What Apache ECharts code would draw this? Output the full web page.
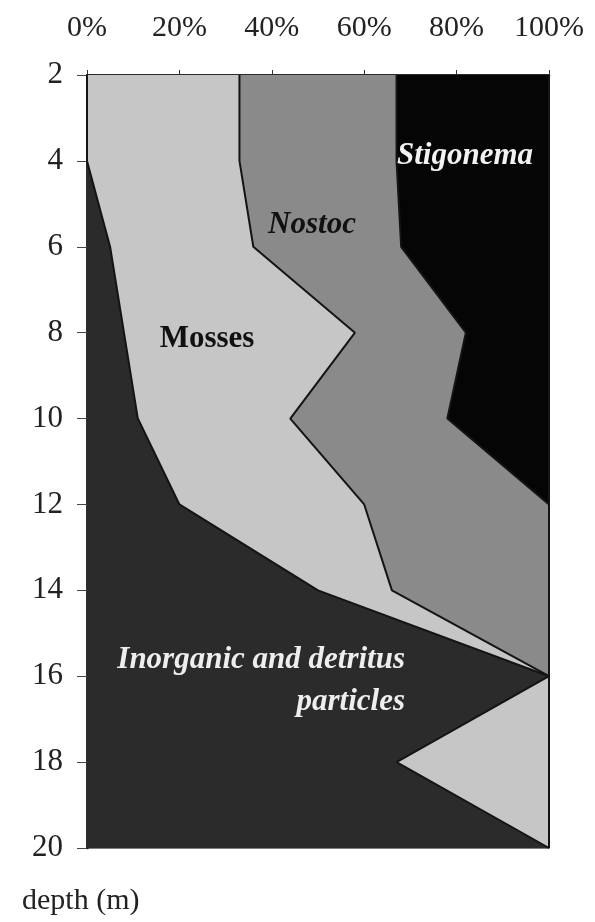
<!DOCTYPE html>
<html>
<head>
<meta charset="utf-8">
<script src="https://cdn.jsdelivr.net/npm/echarts@6/dist/echarts.min.js"></script>
<style>
  html, body { margin: 0; padding: 0; background: #fff; }
  #main { width: 595px; height: 922px; }
</style>
</head>
<body>
<div id="main"></div>
<script>
// depth (m), top to bottom
var depths = ['2', '4', '6', '8', '10', '12', '14', '16', '18', '20'];
// share of each group at each depth (%), stacked left to right
var inorganic = [0, 0, 5, 8, 11, 20, 50, 100, 67, 100];
var mosses = [33, 33, 31, 50, 33, 40, 16, 0, 33, 0];
var nostoc = [34, 34, 32, 24, 34, 40, 34, 0, 0, 0];
var stigonema = [33, 33, 32, 18, 22, 0, 0, 0, 0, 0];
var pctTicks = [0, 20, 40, 60, 80, 100];

var serif = '"Liberation Serif", "Times New Roman", serif';

function layer(name, data, color, z) {
  return {
    name: name,
    type: 'line',
    stack: 'total',
    data: data,
    z: z,
    symbol: 'none',
    silent: true,
    lineStyle: { color: '#141414', width: 2 },
    areaStyle: { color: color, opacity: 1 }
  };
}

var chart = echarts.init(document.getElementById('main'), null, { renderer: 'canvas' });

var option = {
  animation: false,
  backgroundColor: '#ffffff',
  grid: {
    left: 87, right: 46, top: 75, bottom: 74,
    show: true, borderColor: '#555', borderWidth: 1.5
  },
  xAxis: {
    type: 'value',
    position: 'top',
    min: 0, max: 100, interval: 20,
    axisLine: { show: true, lineStyle: { color: '#111', width: 2.5 } },
    axisTick: { show: true, length: 5, lineStyle: { color: '#333' } },
    splitLine: { show: false },
    axisLabel: {
      margin: 32,
      color: '#222',
      fontFamily: serif,
      fontSize: 30,
      formatter: function (v) { return pctTicks.indexOf(v) >= 0 ? v + '%' : ''; }
    }
  },
  yAxis: {
    type: 'category',
    data: depths,
    inverse: true,
    boundaryGap: false,
    axisLine: { show: true, lineStyle: { color: '#111', width: 2.5 } },
    axisTick: { show: true, length: 10, interval: 0, lineStyle: { color: '#444' } },
    axisLabel: {
      interval: 0,
      margin: 24,
      color: '#222',
      fontFamily: serif,
      fontSize: 31
    }
  },
  series: [
    layer('Inorganic and detritus particles', inorganic, '#2b2b2b', 5),
    layer('Mosses', mosses, '#c6c6c6', 4),
    layer('Nostoc', nostoc, '#8a8a8a', 3),
    layer('Stigonema', stigonema, '#050505', 2)
  ],
  graphic: [
    {
      type: 'text', left: 22, top: 886, z: 10,
      style: { text: 'depth (m)', fill: '#222', font: '30px ' + serif }
    },
    {
      type: 'text', x: 465, y: 156, z: 10,
      style: { text: 'Stigonema', fill: '#f2f2f2', font: 'italic bold 31px ' + serif, align: 'center', verticalAlign: 'middle' }
    },
    {
      type: 'text', x: 312, y: 225, z: 10,
      style: { text: 'Nostoc', fill: '#111', font: 'italic bold 31px ' + serif, align: 'center', verticalAlign: 'middle' }
    },
    {
      type: 'text', x: 207, y: 339, z: 10,
      style: { text: 'Mosses', fill: '#111', font: 'bold 31px ' + serif, align: 'center', verticalAlign: 'middle' }
    },
    {
      type: 'text', x: 405, y: 660, z: 10,
      style: { text: 'Inorganic and detritus', fill: '#eeeeee', font: 'italic bold 31px ' + serif, align: 'right', verticalAlign: 'middle' }
    },
    {
      type: 'text', x: 405, y: 702, z: 10,
      style: { text: 'particles', fill: '#eeeeee', font: 'italic bold 31px ' + serif, align: 'right', verticalAlign: 'middle' }
    }
  ]
};

chart.setOption(option);
</script>
</body>
</html>
